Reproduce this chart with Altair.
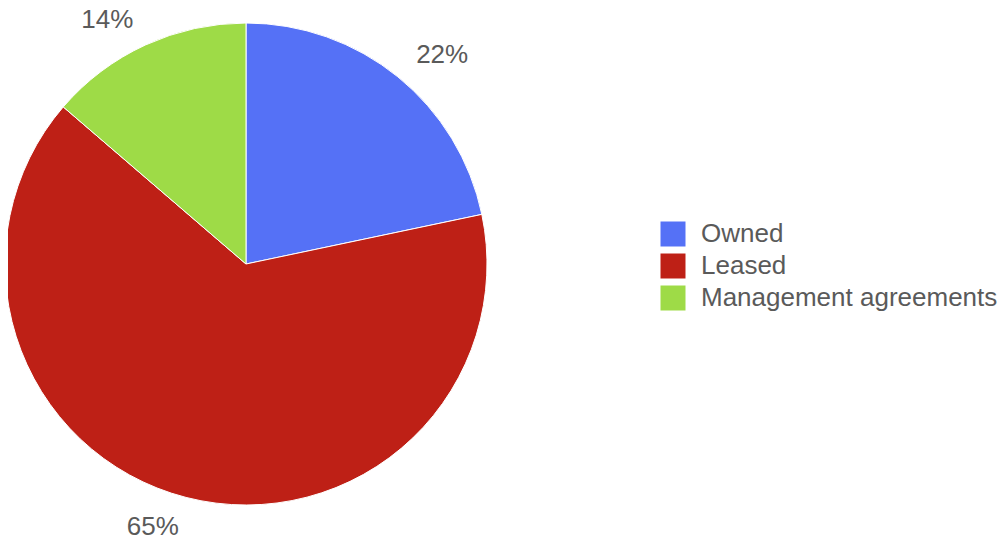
import altair as alt
import pandas as pd

categories = ["Owned", "Leased", "Management agreements"]
values = [21.7, 64.6, 13.7]
labels = ["22%", "65%", "14%"]
colors = ["#5571f6", "#be2016", "#9edb47"]
right_side = ["Owned"]

df = pd.DataFrame({
    "category": categories,
    "value": values,
    "label": labels,
    "order": list(range(len(categories))),
})

FONT = "Liberation Sans"
TXT = "#5a5a5a"

base = alt.Chart(df).encode(
    theta=alt.Theta("value:Q", stack=True),
    order=alt.Order("order:Q"),
)

pie = base.mark_arc(outerRadius=241, stroke="white", strokeWidth=1).encode(
    x=alt.value(238),
    y=alt.value(256),
    color=alt.Color(
        "category:N",
        scale=alt.Scale(domain=categories, range=colors),
        sort=categories,
        legend=alt.Legend(
            title=None,
            orient="none",
            legendX=652,
            legendY=213,
            symbolType="square",
            symbolSize=625,
            symbolStrokeWidth=0,
            labelFont=FONT,
            labelFontSize=26,
            labelColor=TXT,
            labelOffset=15,
            rowPadding=6,
            padding=0,
            labelLimit=400,
        ),
    ),
)

text_r = base.mark_text(radius=270, font=FONT, fontSize=26, color=TXT,
                        baseline="middle", align="left").encode(
    x=alt.value(238),
    y=alt.value(257),
    text="label:N",
    opacity=alt.condition(alt.FieldOneOfPredicate(field="category", oneOf=right_side),
                          alt.value(1), alt.value(0)),
)

text_l = base.mark_text(radius=270, font=FONT, fontSize=26, color=TXT,
                        baseline="middle", align="right").encode(
    x=alt.value(238),
    y=alt.value(257),
    text="label:N",
    opacity=alt.condition(alt.FieldOneOfPredicate(field="category", oneOf=right_side),
                          alt.value(0), alt.value(1)),
)

chart = (
    alt.layer(pie, text_r, text_l)
    .properties(width=990, height=537, padding=0, autosize="none")
    .configure_view(stroke=None)
)

chart.save("out.html", embed_options={"renderer": "svg", "actions": False})
